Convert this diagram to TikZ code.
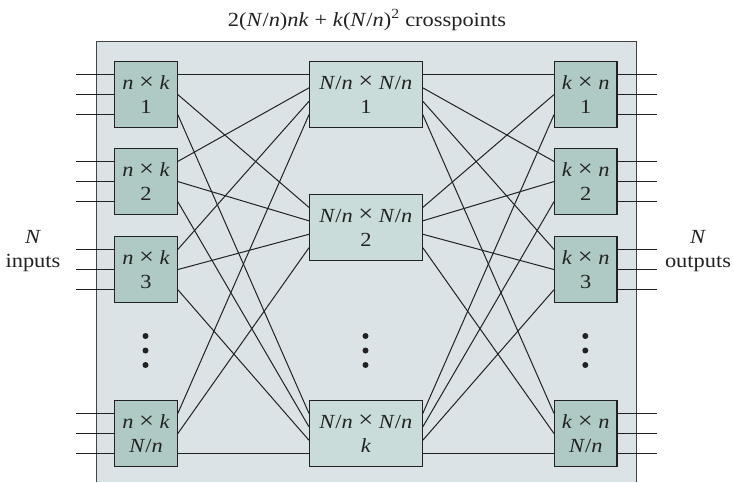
\documentclass[tikz,border=0pt]{standalone}
\usepackage{fontspec}
\setmainfont{Liberation Serif}[FakeStretch=1.12]
\usetikzlibrary{calc}
\definecolor{bgfill}{HTML}{DCE3E6}
\definecolor{sidefill}{HTML}{AFCAC4}
\definecolor{midfill}{HTML}{C9DCDA}
\definecolor{ink}{HTML}{222222}
\definecolor{frame}{HTML}{444444}
\newcommand{\crs}{\raisebox{0.2pt}{\scalebox{1.18}{×}}}
\tikzset{
  boxtext/.style={font=\fontsize{20}{24}\selectfont, text=ink, align=center, inner sep=0pt},
  sidebox/.style={boxtext, draw=ink, line width=1.1pt, fill=sidefill, minimum width=62.4pt, minimum height=66pt, anchor=north west},
  midbox/.style={boxtext, draw=ink, line width=1.1pt, fill=midfill, minimum width=112.7pt, minimum height=66pt, anchor=north west},
  wire/.style={draw=ink, line width=1pt},
  lbl/.style={boxtext},
  vdot/.style={circle, fill=ink, inner sep=0pt, minimum size=6pt}
}
\begin{document}
\begin{tikzpicture}[x=1pt, y=-1pt]
\useasboundingbox (0,0) rectangle (733,482);
% outer frame
\fill[bgfill] (96.5,41.5) rectangle (636.7,482);
\draw[frame, line width=1.4pt] (96.5,482) -- (96.5,41.5) -- (636.7,41.5) -- (636.7,482);
% title
\node[lbl] (title) at (367,20) {2(\textit{N}/\textit{n})\textit{nk} + \textit{k}(\textit{N}/\textit{n})\textsuperscript{2} crosspoints};
% left boxes
\node[sidebox] (L1) at (114.3,61) {\textit{n} \crs{} \textit{k}\\1};
\node[sidebox] (L2) at (114.3,148) {\textit{n} \crs{} \textit{k}\\2};
\node[sidebox] (L3) at (114.3,236) {\textit{n} \crs{} \textit{k}\\3};
\node[sidebox] (L4) at (114.3,400) {\textit{n} \crs{} \textit{k}\\\textit{N}/\textit{n}};
% middle boxes
\node[midbox] (M1) at (309,61) {\textit{N}/\textit{n} \crs{} \textit{N}/\textit{n}\\1};
\node[midbox] (M2) at (309,194) {\textit{N}/\textit{n} \crs{} \textit{N}/\textit{n}\\2};
\node[midbox] (M3) at (309,400) {\textit{N}/\textit{n} \crs{} \textit{N}/\textit{n}\\\textit{k}};
% right boxes
\node[sidebox] (R1) at (554,61) {\textit{k} \crs{} \textit{n}\\1};
\node[sidebox] (R2) at (554,148) {\textit{k} \crs{} \textit{n}\\2};
\node[sidebox] (R3) at (554,236) {\textit{k} \crs{} \textit{n}\\3};
\node[sidebox] (R4) at (554,400) {\textit{k} \crs{} \textit{n}\\\textit{N}/\textit{n}};
% side labels
\node[lbl] (inlbl) at (33,251) {\textit{N}\\inputs};
\node[lbl] (outlbl) at (698,251) {\textit{N}\\outputs};
% input / output lines
\foreach \i in {1,2,3,4}{
  \foreach \p in {0.2,0.5,0.8}{
    \draw[wire] ($(L\i.north west)!\p!(L\i.south west)$) -- ++(-38.3,0);
    \draw[wire] ($(R\i.north east)!\p!(R\i.south east)$) -- ++(39,0);
  }
}
% interconnections
\foreach \i/\li in {1/0.2,2/0.4,3/0.6,4/0.8}{
  \foreach \j/\lj in {1/0.2,2/0.5,3/0.8}{
    \draw[wire] ($(L\i.north east)!\lj!(L\i.south east)$) -- ($(M\j.north west)!\li!(M\j.south west)$);
    \draw[wire] ($(M\j.north east)!\li!(M\j.south east)$) -- ($(R\i.north west)!\lj!(R\i.south west)$);
  }
}
% dots
\foreach \x/\n in {145.5/a,365.5/b,585.3/c}{
  \node[vdot] (d1\n) at (\x,336) {};
  \node[vdot] (d2\n) at (\x,350.5) {};
  \node[vdot] (d3\n) at (\x,365) {};
}
\end{tikzpicture}
\end{document}
